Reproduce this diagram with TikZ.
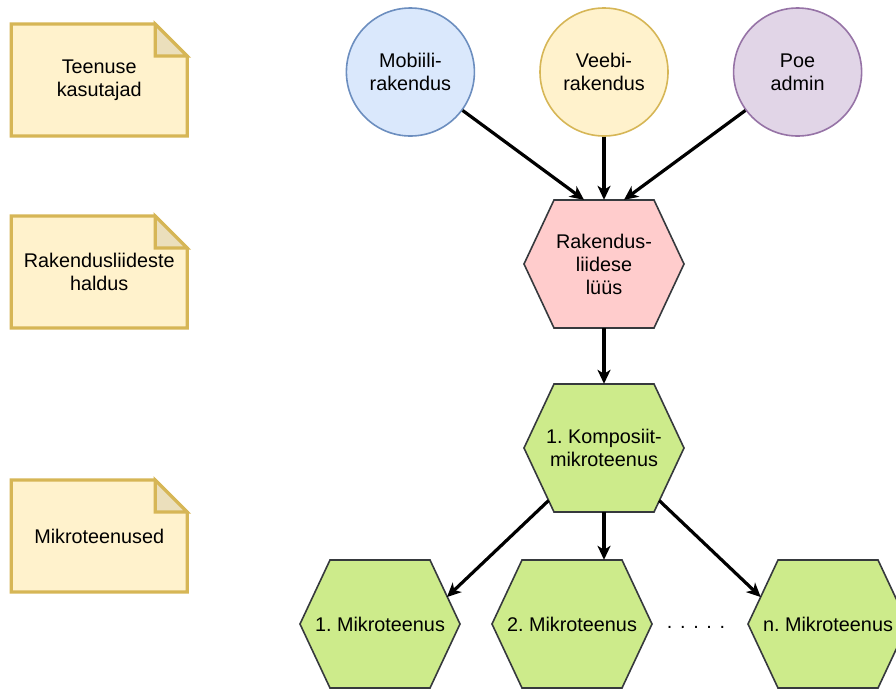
\documentclass[tikz,border=0pt]{standalone}
\usepackage{fontspec}
\setmainfont{Liberation Sans}
\usetikzlibrary{arrows.meta,calc}
\frenchspacing

\definecolor{noteFill}{HTML}{FFF2CC}
\definecolor{noteLine}{HTML}{D6B656}
\definecolor{noteFold}{HTML}{EBDFBC}
\definecolor{blueFill}{HTML}{DAE8FC}
\definecolor{blueLine}{HTML}{6C8EBF}
\definecolor{purpleFill}{HTML}{E1D5E7}
\definecolor{purpleLine}{HTML}{9673A6}
\definecolor{pinkFill}{HTML}{FFCCCC}
\definecolor{greenFill}{HTML}{CDEB8B}
\definecolor{hexLine}{HTML}{36393D}

\tikzset{
  label text/.style={font=\fontsize{19.8}{23}\selectfont, align=center, text=black},
  notebox/.style={label text, minimum width=176pt, minimum height=112pt, inner sep=0pt},
  hexbox/.style={label text, minimum width=160pt, minimum height=128pt, inner sep=0pt},
  appcircle/.style={label text, circle, minimum size=128pt, inner sep=0pt, line width=1.6pt},
  flow/.style={line width=3.2pt, -{Stealth[length=14pt,width=13pt,inset=4pt]}},
}

% sticky note with a folded corner: name, centre, text
\newcommand\notenode[3]{%
  \filldraw[noteLine, fill=noteFill, line width=3.2pt, line join=miter]
    ($(#2)+(-88,-56)$) -- ($(#2)+(56,-56)$) -- ($(#2)+(88,-24)$)
    -- ($(#2)+(88,56)$) -- ($(#2)+(-88,56)$) -- cycle;
  \filldraw[noteLine, fill=noteFold, line width=3.2pt, line join=miter]
    ($(#2)+(56,-56)$) -- ($(#2)+(56,-24)$) -- ($(#2)+(88,-24)$) -- cycle;
  \node[notebox] (#1) at (#2) {#3};
}

% flat-topped hexagon: name, centre, fill colour, text
\newcommand\hexnode[4]{%
  \filldraw[hexLine, fill=#3, line width=1.6pt, line join=miter]
    ($(#2)+(-80,0)$) -- ($(#2)+(-50,-64)$) -- ($(#2)+(50,-64)$)
    -- ($(#2)+(80,0)$) -- ($(#2)+(50,64)$) -- ($(#2)+(-50,64)$) -- cycle;
  \node[hexbox] (#1) at (#2) {#4};
}

\begin{document}
\begin{tikzpicture}[x=1pt,y=-1pt]
  \clip (0,0) rectangle (896,689);

  % layer labels
  \notenode{users}{99.2,80}{Teenuse\\kasutajad}
  \notenode{apimgmt}{99.2,272}{Rakendusliideste\\haldus}
  \notenode{micro}{99.2,536}{Mikroteenused}

  % clients
  \node[appcircle, draw=blueLine, fill=blueFill] (mob) at (410.4,72) {Mobiili-\\rakendus};
  \node[appcircle, draw=noteLine, fill=noteFill] (veeb) at (604,72) {Veebi-\\rakendus};
  \node[appcircle, draw=purpleLine, fill=purpleFill] (poe) at (797.6,72) {Poe\\admin};

  % gateway and services
  \hexnode{rak}{604,264}{pinkFill}{Rakendus-\\liidese\\lüüs}
  \hexnode{kom}{604,448}{greenFill}{1. Komposiit-\\mikroteenus}
  \hexnode{m1}{380,624}{greenFill}{1. Mikroteenus}
  \hexnode{m2}{572,624}{greenFill}{2. Mikroteenus}
  \hexnode{mn}{828,624}{greenFill}{n. Mikroteenus}

  \node[label text, anchor=base] (dots) at (696,628)
    {.\hspace{7.7pt}.\hspace{7.7pt}.\hspace{7.7pt}.\hspace{7.7pt}.};

  % connection points on the hexagon borders
  \coordinate (rakIn1) at ($(rak.north)+(-20,0)$);
  \coordinate (rakIn3) at ($(rak.north)+(20,0)$);
  \coordinate (komOut1) at ($(kom.center)+(-55.4,52.5)$);
  \coordinate (komOut3) at ($(kom.center)+(55.3,52.6)$);
  \coordinate (m1In) at ($(m1.center)+(67,-27)$);
  \coordinate (m2In) at ($(m2.north)+(32,0)$);
  \coordinate (mnIn) at ($(mn.center)+(-67.3,-27)$);

  % requests
  \draw[flow] (mob) -- (rakIn1);
  \draw[flow] (veeb) -- (rak.north);
  \draw[flow] (poe) -- (rakIn3);
  \draw[flow] (rak.south) -- (kom.north);
  \draw[flow] (komOut1) -- (m1In);
  \draw[flow] (kom.south) -- (m2In);
  \draw[flow] (komOut3) -- (mnIn);
\end{tikzpicture}
\end{document}
